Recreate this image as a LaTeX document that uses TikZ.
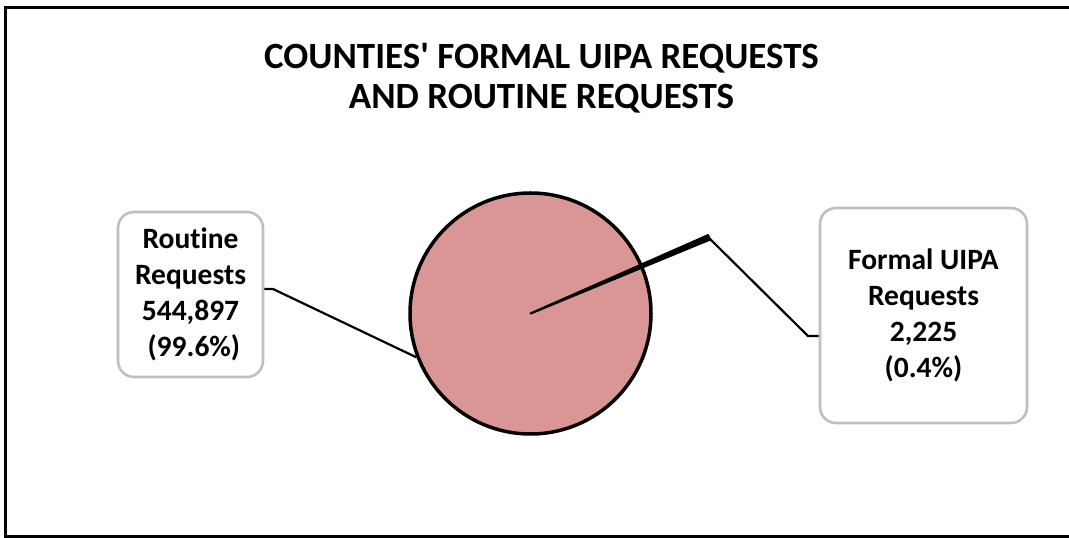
\documentclass[tikz,border=0pt]{standalone}
\usepackage{fontspec}
\setmainfont{Carlito}[Ligatures=NoCommon]
\usepackage{xcolor}
\usetikzlibrary{positioning, calc}

\definecolor{piefill}{HTML}{D99694}
\definecolor{boxgray}{HTML}{BFBFBF}

\begin{document}
\begin{tikzpicture}[
        x=1pt, y=1pt,
        labelbox/.style={rectangle, rounded corners=16pt, draw=boxgray, line width=2.6pt, fill=white, align=center, font=\fontsize{29.5}{36}\selectfont\bfseries, inner sep=0pt},
        leader/.style={draw, line width=2.2pt}
    ]
        \useasboundingbox (0,0) rectangle (1069,538);
        % chart frame
        \draw[line width=3pt] (1100,530) -- (5,530) -- (5,1) -- (1100,1);

        % title
        \node[align=center, font=\fontsize{37}{40}\selectfont\bfseries] (title) at (541.5,460) {COUNTIES\textquotesingle{} FORMAL UIPA REQUESTS\\AND ROUTINE REQUESTS};

        % pie
        \node[circle, draw, line width=3.5pt, fill=piefill, minimum size=241pt, inner sep=0pt] (pie) at (530.5,224.5) {};
        \coordinate (tip) at (708,301);
        \fill[line width=2.2pt, line join=round, draw] (pie.center) -- ($(pie.center)+(22.4:194)$) -- ($(pie.center)+(23.8:194)$) -- cycle;

        % labels
        \node[labelbox, minimum width=145pt, minimum height=165pt] (routine) at (190.5,243.5) {Routine\\Requests\\544,897\\\ (99.6\%)};
        \node[labelbox, minimum width=207pt, minimum height=215pt] (formal) at (923.5,222.5) {Formal UIPA\\Requests\\2,225\\(0.4\%)};

        % leader lines
        \coordinate (lbend) at (273,249);
        \coordinate (rbend) at (808,202);
        \draw[leader] (pie.201) -- (lbend) -- (lbend -| routine.east);
        \draw[leader] (tip) -- (rbend) -- (rbend -| formal.west);
    \end{tikzpicture}
\end{document}
